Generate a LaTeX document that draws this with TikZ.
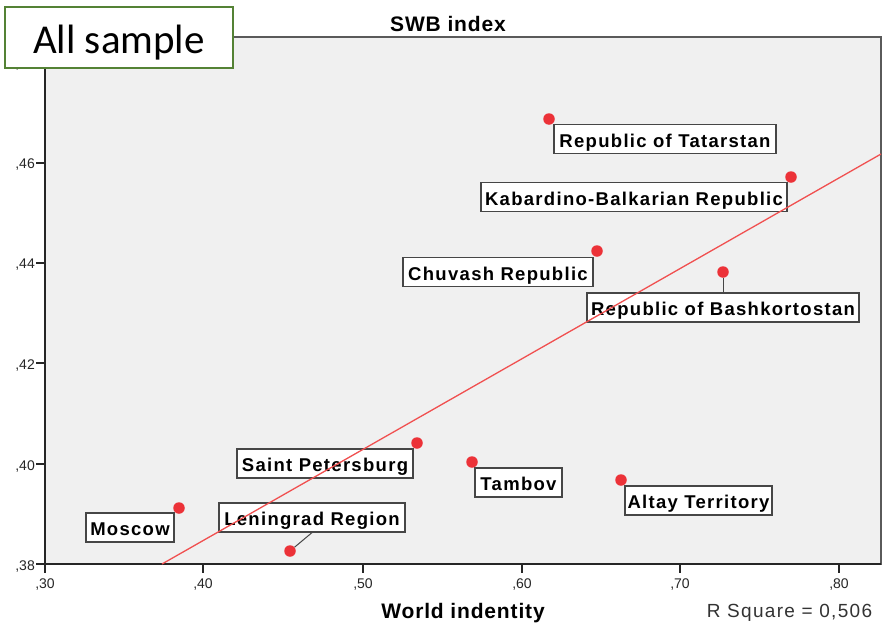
\documentclass[tikz,border=0pt]{standalone}
\usepackage{fontspec}
\setmainfont{Liberation Sans}
\newfontfamily\labfont[LetterSpace=7]{Liberation Sans}
\newfontfamily\axfont[LetterSpace=4]{Liberation Sans}
\newfontfamily\calfont{Carlito}
\definecolor{panelfill}{RGB}{240,240,240}
\definecolor{framegray}{RGB}{90,90,90}
\definecolor{dotred}{RGB}{236,50,56}
\definecolor{fitred}{RGB}{240,80,80}
\definecolor{boxgreen}{RGB}{84,130,53}
\definecolor{labgray}{RGB}{70,70,70}
\begin{document}
\begin{tikzpicture}[x=1pt,y=-1pt,
  panel/.style={fill=panelfill,draw=framegray,line width=1.2pt},
  axisline/.style={draw=black!85,line width=1.3pt},
  tick/.style={draw=black!85,line width=1.2pt},
  ticklab/.style={font=\fontsize{14}{16}\selectfont,text=black!85,inner sep=0pt},
  dot/.style={circle,fill=dotred,inner sep=0pt,minimum size=11.5pt},
  lab/.style={draw=labgray,line width=1.2pt,fill=white,inner sep=0pt,minimum height=29pt,
    text height=16pt,text depth=0pt,font=\labfont\bfseries\fontsize{18.5}{20}\selectfont},
  leader/.style={draw=labgray,line width=1pt},
  fit/.style={draw=fitred,line width=1.3pt},
  axtitle/.style={font=\axfont\bfseries\fontsize{21}{24}\selectfont,inner sep=0pt},
  samplebox/.style={draw=boxgreen,line width=2pt,fill=white,inner sep=0pt,
    minimum width=228pt,minimum height=61pt,text height=36pt,text depth=5pt,
    font=\calfont\fontsize{41}{46}\selectfont}
]
\useasboundingbox (0,0) rectangle (885,635);
\fill[white] (0,0) rectangle (885,635);
% panel
\path[panel] (45,37) rectangle (881,564);
\draw[axisline] (45,37) -- (45,564) -- (881,564);
% y ticks
\foreach \yy/\lb in {63/48,163/46,263/44,363/42,464/40,564/38}{
  \draw[tick] (36,\yy) -- (45,\yy);
  \node[ticklab,anchor=east] at (35,\yy+2) {,\lb};
}
% x ticks
\foreach \xx/\lb in {45/30,203/40,363/50,522/60,680/70,839/80}{
  \draw[tick] (\xx,564) -- (\xx,573);
  \node[ticklab] at (\xx,584) {,\lb};
}
% points
\node[dot] (tat) at (549,119) {};
\node[dot] (kab) at (791,177) {};
\node[dot] (chu) at (597,251) {};
\node[dot] (bas) at (723,272) {};
\node[dot] (spb) at (417,443) {};
\node[dot] (tam) at (472,462) {};
\node[dot] (alt) at (621,480) {};
\node[dot] (mos) at (179,508) {};
\node[dot] (len) at (290,551) {};
% labels
\node[lab,minimum width=222pt] (ltat) at (665,139) {Republic of Tatarstan};
\node[lab,minimum width=306pt] (lkab) at (634,197) {Kabardino-Balkarian Republic};
\node[lab,minimum width=190pt] (lchu) at (498,272) {Chuvash Republic};
\node[lab,minimum width=272pt] (lbas) at (723,307.5) {Republic of Bashkortostan};
\node[lab,minimum width=176pt] (lspb) at (325,463.5) {Saint Petersburg};
\node[lab,minimum width=87pt] (ltam) at (518.5,482.5) {Tambov};
\node[lab,minimum width=147pt] (lalt) at (698.5,500.5) {Altay Territory};
\node[lab,minimum width=88pt] (lmos) at (130,527.5) {Moscow};
\node[lab,minimum width=186pt] (llen) at (312,517.5) {Leningrad Region};
% leader lines
\draw[leader] (bas) -- (lbas.north);
\draw[leader] (len) -- (llen.south);
% fit line
\coordinate (fitA) at (162,564);
\coordinate (fitB) at (881,154);
\begin{scope}
  \clip (45,37) rectangle (881,564);
  \draw[fit] (fitA) -- (fitB);
\end{scope}
% titles
\node[axtitle] (title) at (448,24) {SWB index};
\node[axtitle] (xtitle) at (463,613) {World indentity};
\node[inner sep=0pt,font=\labfont\fontsize{19}{22}\selectfont,text=black!80] (rsq) at (789.5,613) {R Square = 0,506};
% sample box
\node[samplebox] (sample) at (119,37.5) {All sample};
\end{tikzpicture}
\end{document}
